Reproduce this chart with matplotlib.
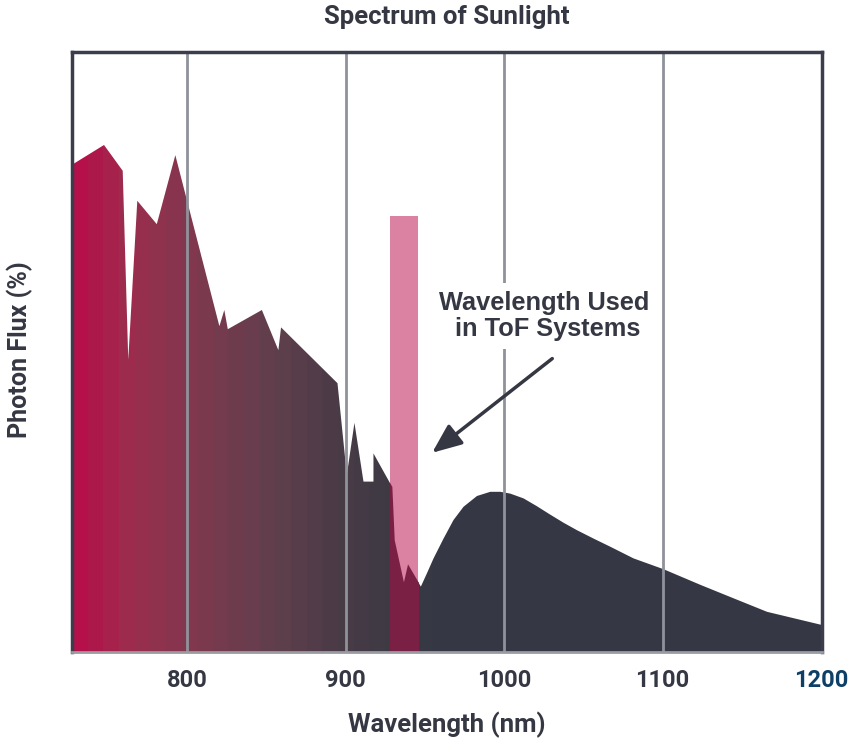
import numpy as np
import matplotlib
matplotlib.use('Agg')
import matplotlib.pyplot as plt
from matplotlib.patches import PathPatch, Rectangle
from matplotlib.colors import LinearSegmentedColormap

# spectrum (nm, photon flux %)
wavelength = [727.4, 747.6, 759.4, 762.9, 768.6, 780.9, 792.6, 820.4, 823.5, 825.7,
              847.2, 857.6, 859.3, 894.9, 900.8, 905.6, 911.3, 917.6, 917.6, 929.2,
              930.7, 936.5, 939.1, 947.5, 951.3, 955.5, 961.8, 968.1, 974.4, 982.9,
              991.3, 997.6, 1003.9, 1012.3, 1020.7, 1029.1, 1037.5, 1046.0, 1056.5,
              1067.0, 1081.7, 1100.6, 1123.8, 1144.8, 1165.9, 1200.6]
flux = [81.2, 84.5, 80.2, 48.7, 75.2, 71.3, 82.8, 54.3, 57.0, 53.8,
        57.0, 50.3, 54.1, 44.8, 29.5, 38.2, 28.4, 28.4, 33.1, 27.6,
        18.7, 11.7, 14.7, 10.9, 13.1, 15.6, 18.9, 22.0, 24.2, 26.0,
        26.7, 26.7, 26.4, 25.6, 24.3, 22.9, 21.55, 20.3, 18.9,
        17.55, 15.6, 13.8, 11.2, 8.95, 6.7, 4.5]

tof_band = (928.1, 946.0)
tof_top = 72.7
ticks = [800, 900, 1000, 1100, 1200]
tick_labels = ['800', '900', '1000', '1100', '1200']

# gradient anchors (nm, colour)
grad_nm = [727.4, 760, 800, 850, 900, 930, 950, 1200.6]
grad_col = ['#b5104a', '#9b2e4e', '#80384f', '#613f4d', '#473b46', '#3d3a44', '#363844', '#353844']

dark = '#353843'
cond = ['Roboto', 'DejaVu Sans']
wide = ['Liberation Sans', 'DejaVu Sans']

fig = plt.figure(figsize=(8.57, 7.51), dpi=100)
ax = fig.add_axes([0.084, 0.1318, 0.8752, 0.799])
x0, x1 = 727.4, 1200.6
ax.set_xlim(x0, x1)
ax.set_ylim(0, 100)

# gradient filled spectrum
poly = ax.fill_between(wavelength, flux, 0, color='none', lw=0)
clip = PathPatch(poly.get_paths()[0], transform=ax.transData, fc='none', ec='none')
ax.add_patch(clip)
pos = [(v - x0) / (x1 - x0) for v in grad_nm]
cmap = LinearSegmentedColormap.from_list('sun', list(zip(pos, grad_col)))
steps = np.linspace(0, 1, 48)
im = ax.imshow(steps[None, :], cmap=cmap, extent=[x0, x1, 0, 100], aspect='auto',
               interpolation='nearest', zorder=1)
im.set_clip_path(clip)

# ToF band
ax.add_patch(Rectangle((tof_band[0], 0), tof_band[1] - tof_band[0], tof_top,
                       fc='#db82a2', ec='none', zorder=2))
over = ax.fill_between(wavelength, flux, 0, color='#7a2045', lw=0, zorder=2.5)
band_clip = Rectangle((tof_band[0], 0), tof_band[1] - tof_band[0], tof_top,
                      transform=ax.transData, fc='none', ec='none')
ax.add_patch(band_clip)
over.set_clip_path(band_clip)

for t in ticks[:-1]:
    ax.axvline(t, color='#8f929a', lw=2, zorder=3)

ax.set_xticks(ticks)
ax.set_xticklabels(tick_labels)
ax.set_yticks([])
ax.tick_params(axis='x', length=0, pad=12)
for lab in ax.get_xticklabels():
    lab.set_fontfamily(cond)
    lab.set_fontweight('bold')
    lab.set_fontsize(17)
    lab.set_color(dark)
ax.get_xticklabels()[-1].set_color('#0e3f66')

for s in ['left', 'top', 'right']:
    ax.spines[s].set_color('#3b3e4a')
    ax.spines[s].set_linewidth(2.5)
ax.spines['bottom'].set_color('#9a9ca3')
ax.spines['bottom'].set_linewidth(2)
for s in ax.spines.values():
    s.set_zorder(6)

ax.text(1025, 56, 'Wavelength Used\n in ToF Systems', ha='center', va='center',
        multialignment='center', fontsize=18.3, fontweight='bold', color=dark,
        family=wide, linespacing=1.1, zorder=5,
        bbox=dict(fc='white', ec='none', pad=6))
ax.annotate('', xy=(954.6, 33.2), xytext=(1030.4, 48.9),
            arrowprops=dict(arrowstyle='-|>,head_length=1.2,head_width=0.5',
                            mutation_scale=15, color=dark, lw=2.5,
                            shrinkA=0, shrinkB=0), zorder=5)

fig.text(0.521, 1 - 17 / 751, 'Spectrum of Sunlight', ha='center', va='center',
         fontsize=18.5, fontweight='bold', color=dark, family=cond)
fig.text(0.521, 26 / 751, 'Wavelength (nm)', ha='center', va='center',
         fontsize=18.5, fontweight='bold', color=dark, family=cond)
fig.text(0.023, 0.534, 'Photon Flux (%)', ha='center', va='center', rotation=90,
         fontsize=18, fontweight='bold', color=dark, family=cond)

fig.savefig('out.png', dpi=100)
